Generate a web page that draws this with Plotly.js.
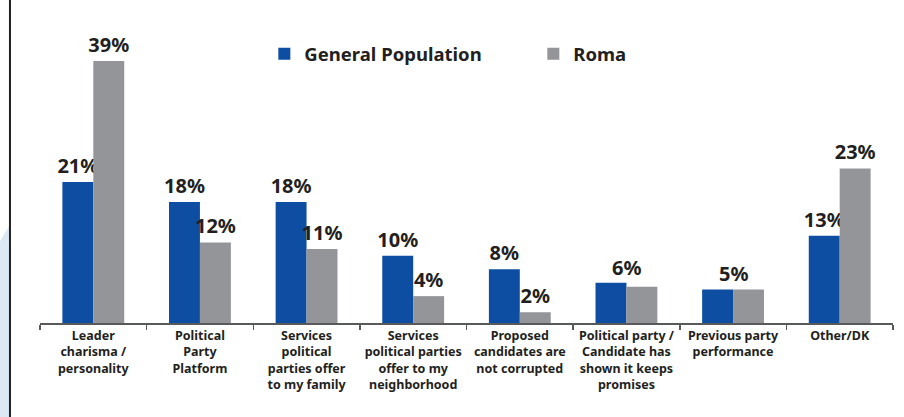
<!DOCTYPE html>
<html><head><meta charset="utf-8">
<script src="https://cdn.plot.ly/plotly-3.0.1.min.js"></script>
<style>html,body{margin:0;padding:0;background:#fff}#chart{width:904px;height:417px}</style>
</head><body><div id="chart"></div>
<script>
const categories = [
  "Leader<br>charisma /<br>personality",
  "Political<br>Party<br>Platform",
  "Services<br>political<br>parties offer<br>to my family",
  "Services<br>political parties<br>offer to my<br>neighborhood",
  "Proposed<br>candidates are<br>not corrupted",
  "Political party /<br>Candidate has<br>shown it keeps<br>promises",
  "Previous party<br>performance",
  "Other/DK"
];
const generalPopulation = [21, 18, 18, 10, 8, 6, 5, 13];
const roma = [39, 12, 11, 4, 1.6, 5.4, 5, 23];
const generalLabels = ["21%", "18%", "18%", "10%", "8%", "", "", "13%"];
const romaLabels = ["39%", "12%", "11%", "4%", "2%", "", "", "23%"];
const sharedLabels = ["", "", "", "", "", "6%", "5%", ""];

const txtFont = {family: "Noto Sans, Open Sans, sans-serif", size: 20, color: "#231f20", weight: 700};

const traces = [
  {type: "bar", name: "General Population", x: categories, y: generalPopulation,
   marker: {color: "#0d4ea2"}, text: generalLabels, textposition: "outside", constraintext: "none",
   textfont: txtFont, cliponaxis: false, hoverinfo: "none"},
  {type: "bar", name: "Roma", x: categories, y: roma,
   marker: {color: "#939598"}, text: romaLabels, textposition: "outside", constraintext: "none",
   textfont: txtFont, cliponaxis: false, hoverinfo: "none"}
];

const annotations = [];
sharedLabels.forEach((t, i) => {
  if (t) annotations.push({x: categories[i], y: Math.max(generalPopulation[i], roma[i]),
    xref: "x", yref: "y", text: t, showarrow: false, yanchor: "bottom", yshift: 0, font: txtFont});
});

const layout = {
  width: 904, height: 417,
  margin: {l: 40, r: 11, t: 20, b: 94},
  paper_bgcolor: "#fff", plot_bgcolor: "#fff",
  barmode: "group", bargap: 0.42, bargroupgap: 0,
  showlegend: true,
  legend: {orientation: "h", x: 0.263, y: 0.95, xanchor: "left", yanchor: "top",
    font: {family: "Noto Sans, Open Sans, sans-serif", size: 18.5, color: "#231f20", weight: 700},
    entrywidth: 224, entrywidthmode: "pixels", bgcolor: "rgba(0,0,0,0)"},
  xaxis: {range: [-0.5, 7.5], showline: true, linecolor: "#58595b", linewidth: 2,
    ticks: "outside", tickson: "boundaries", ticklen: 5, tickcolor: "#58595b", tickwidth: 1.5,
    tickangle: 0,
    tickfont: {family: "Noto Sans, Open Sans, sans-serif", size: 12.5, color: "#231f20", weight: 700},
    showgrid: false, zeroline: false, fixedrange: true},
  yaxis: {range: [0, 45.1], visible: false, showgrid: false, zeroline: false, fixedrange: true},
  annotations: annotations,
  shapes: [
    {type: "path", xref: "paper", yref: "paper",
     path: "M -0.047 -0.31 L -0.047 0.27 L -0.036 0.32 L -0.036 -0.31 Z",
     fillcolor: "#dce9f5", line: {width: 0}, layer: "below"},
    {type: "line", xref: "paper", yref: "paper", x0: -0.0352, x1: -0.0352, y0: -0.32, y1: 1.08,
     line: {color: "#231f20", width: 2}}
  ]
};

Plotly.newPlot("chart", traces, layout, {displayModeBar: false, staticPlot: true});
</script></body></html>
